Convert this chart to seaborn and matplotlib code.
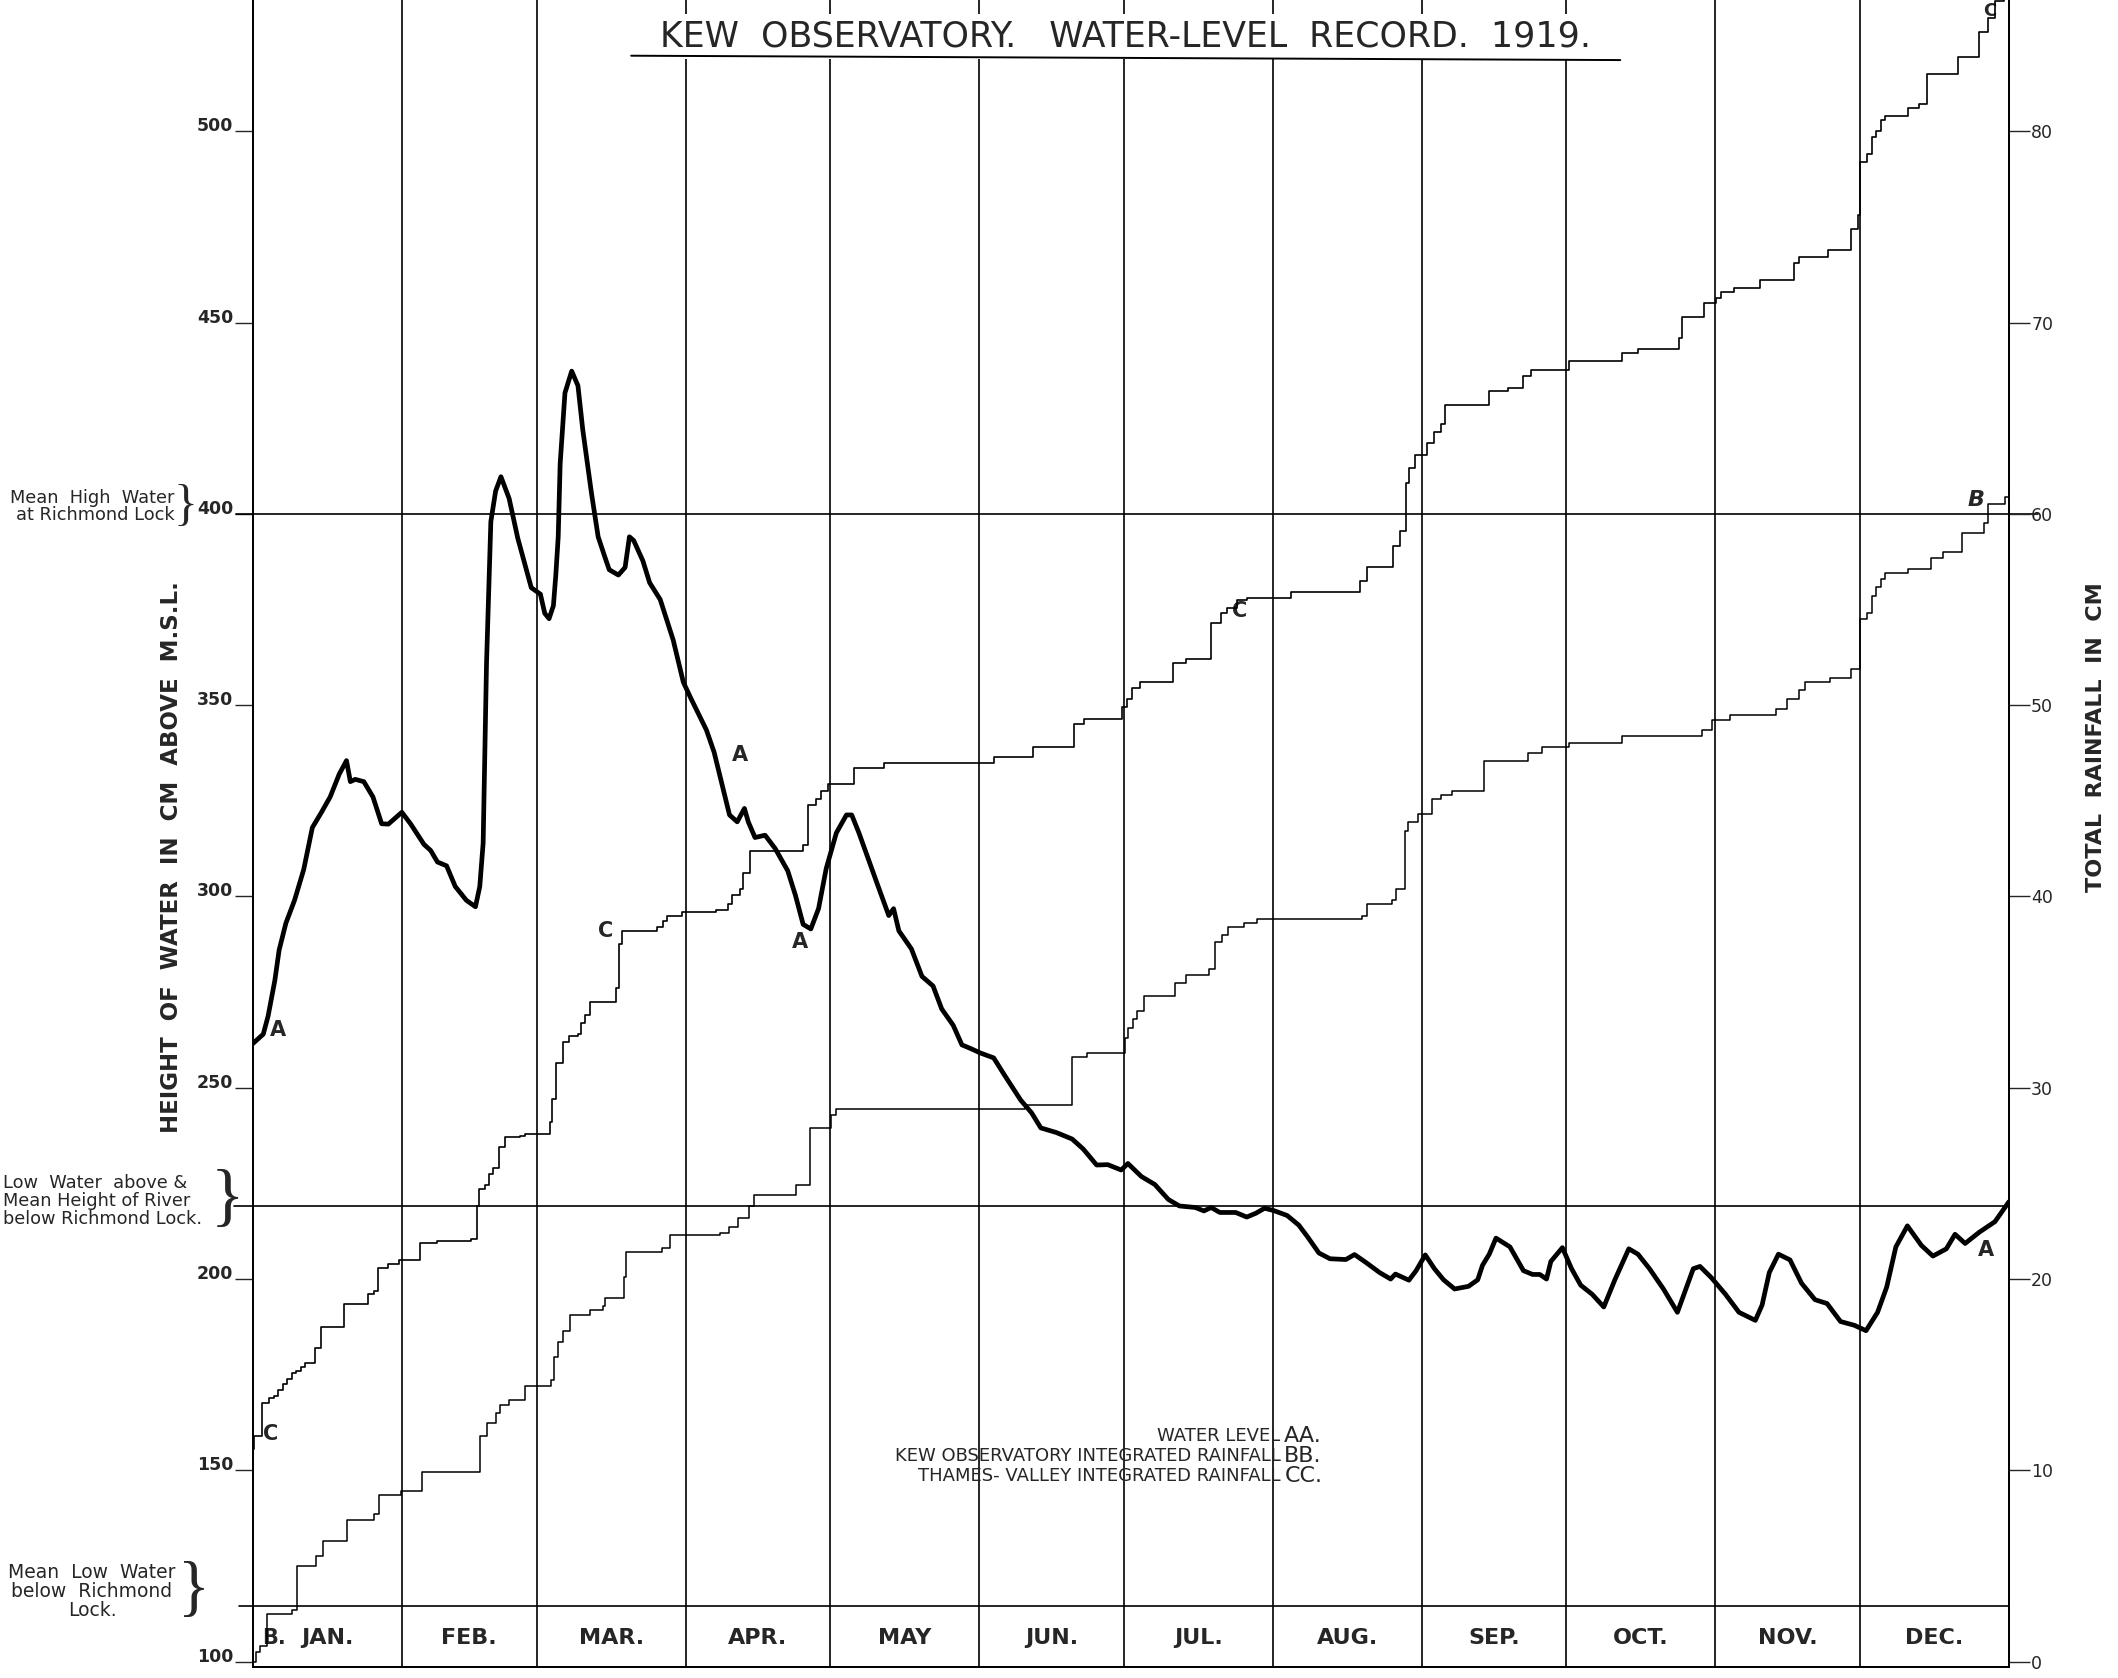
import matplotlib
matplotlib.use('Agg')
import matplotlib.pyplot as plt
import seaborn as sns
from matplotlib.lines import Line2D

# -------------------------------
# Data
# -------------------------------
# water level A, cm above M.S.L. (left scale), x = day of year
water_day = [0, 2.2, 3.2, 4.6, 5.5, 6.9, 8.7, 10.6, 12.4, 14.3, 16.1, 18.0, 19.5, 20.3, 21.3,
             23.1, 25.0, 26.8, 28.2, 31.0, 32.8, 35.6, 37.0, 38.4, 40.3, 42.1, 44.4, 46.3,
             47.2, 47.9, 48.6, 49.5, 50.5, 51.6, 53.3, 55.1, 57.9, 59.8, 60.7, 61.6, 62.5,
             63.0, 63.5, 63.9, 64.9, 66.3, 67.6, 68.6, 70.4, 71.8, 73.2, 74.1, 76.0, 77.4,
             78.3, 79.2, 81.1, 82.5, 84.7, 87.4, 89.5, 91.1, 94.3, 95.9, 97.5, 99.1, 100.7,
             102.2, 103.0, 104.4, 106.5, 108.6, 111.2, 112.8, 114.4, 116.0, 117.6, 119.2,
             121.3, 123.4, 124.5, 126.0, 128.0, 130.0, 132.2, 133.2, 134.3, 136.9, 139.1,
             141.4, 143.2, 145.6, 147.4, 149.3, 151.2, 154.0, 156.3, 159.6, 161.9, 163.8,
             167.0, 170.3, 172.6, 175.4, 177.7, 180.5, 181.9, 184.7, 187.5, 190.3, 192.6,
             195.9, 197.7, 199.2, 201.0, 204.3, 206.6, 208.5, 210.3, 212.2, 215.0, 217.4,
             219.2, 221.6, 223.9, 227.2, 229.0, 231.4, 234.2, 236.5, 237.5, 240.3, 241.8,
             243.7, 245.6, 247.5, 249.8, 252.7, 254.6, 255.6, 257.0, 258.4, 261.3, 264.1,
             266.0, 267.5, 268.9, 269.8, 272.2, 274.1, 276.0, 278.4, 280.8, 283.1, 286.0,
             287.9, 290.3, 293.2, 296.1, 298.0, 299.4, 300.8, 303.2, 306.1, 308.9, 312.3,
             313.7, 315.2, 317.1, 319.5, 321.9, 324.7, 327.2, 330.0, 332.9, 335.3, 337.7,
             339.6, 341.5, 343.9, 346.8, 349.2, 352.0, 353.8, 355.9, 358.8, 362.1, 365.0]
water_cm = [261.5, 264, 268.7, 278, 286, 293, 299, 307, 318, 322, 326, 332, 335.5, 330, 330.6,
            330, 326, 319, 318.9, 322, 319, 313.6, 312, 309, 308, 302.6, 299, 297.3,
            302.6, 314, 361, 398, 406, 409.7, 404, 393.6, 380.7, 379, 374, 372.6, 376,
            384, 394, 413, 431.6, 437.3, 433.5, 422, 405.5, 394, 388.7, 385.4, 384, 386,
            394, 393, 387.7, 382, 377.6, 367, 356, 351.7, 343.5, 337.7, 329.5, 321.3, 319.5,
            323, 319.5, 315.4, 316, 312.5, 306.7, 300.3, 292.7, 291.5, 296.8, 307.3,
            316.6, 321.3, 321.3, 316.6, 309.6, 302.6, 295, 296.8, 291, 286.3, 279.1,
            276.6, 270.6, 266.3, 261.2, 260.2, 259.1, 257.8, 253.2, 246.8, 243.4, 239.5,
            238.3, 236.6, 234, 229.8, 229.9, 228.5, 230.2, 226.8, 224.7, 220.8, 219.1,
            218.7, 217.8, 218.7, 217.4, 217.4, 216.2, 217.2, 218.5, 217.9, 216.6, 214.1,
            211.1, 206.8, 205.3, 205.1, 206.4, 204.3, 201.7, 200, 201.3, 199.7, 202.2,
            206.3, 202.7, 199.8, 197.4, 198.1, 199.8, 203.6, 206.5, 210.7, 208.4, 202.2,
            201.2, 201.2, 200, 204.6, 208.2, 202.7, 198.4, 196, 192.7, 199.8, 207.9,
            206.5, 202.7, 197.4, 191.3, 197.9, 202.7, 203.3, 200.3, 196, 191.3, 189.2,
            193.2, 201.7, 206.5, 205, 198.9, 194.6, 193.6, 188.9, 187.9, 186.5, 191.3,
            197.9, 208.4, 213.9, 208.8, 206, 207.9, 211.7, 209.3, 212.2, 215, 220.2]

# Kew Observatory integrated rainfall B, cm (right scale), steps
kew_day = [0, 0.6, 1.6, 3.0, 8.1, 9.2, 13.2, 14.6, 19.7, 25.3, 26.3, 30.9, 35.1, 47.2, 48.6,
           50.5, 51.4, 53.3, 56.5, 62.1, 62.6, 63.5, 64.5, 65.9, 70.1, 72.9, 73.3, 77.1,
           77.5, 85.0, 86.8, 97.1, 99.0, 100.8, 103.1, 104.1, 112.9, 115.8, 120.2, 121.3,
           160.5, 170.3, 173.5, 181.2, 181.9, 183.0, 183.8, 185.2, 191.7, 194.0, 198.7,
           200.1, 201.4, 202.8, 206.0, 208.8, 230.6, 231.6, 236.7, 237.6, 239.4, 240.2,
           242.2, 245.0, 246.9, 249.3, 255.9, 265.1, 268.0, 273.6, 284.6, 301.2, 303.2,
           307.0, 316.5, 318.9, 321.3, 322.7, 327.9, 332.2, 334.1, 335.5, 336.5, 337.4,
           338.4, 339.3, 344.1, 348.8, 351.2, 355.3, 359.8, 360.7, 364.1, 365.0]
kew_cm = [0, 0.5, 0.8, 2.5, 2.7, 5.0, 5.5, 6.3, 7.4, 7.7, 8.7, 8.9, 9.9, 11.8, 12.5,
          13.0, 13.4, 13.7, 14.4, 14.7, 15.9, 16.7, 17.3, 18.1, 18.4, 18.6, 19.0, 20.1,
          21.4, 21.6, 22.3, 22.4, 22.7, 23.2, 23.8, 24.4, 24.9, 27.9, 28.6, 28.9,
          29.1, 31.6, 31.8, 32.6, 33.1, 33.6, 34.0, 34.8, 35.5, 35.9, 36.2,
          37.6, 38.0, 38.4, 38.6, 38.8, 39.0, 39.6, 39.8, 40.4, 43.4, 43.9,
          44.3, 45.1, 45.3, 45.5, 47.1, 47.5, 47.8, 48.0, 48.4, 48.7, 49.2,
          49.5, 49.8, 50.3, 50.8, 51.2, 51.4, 51.9, 54.5, 54.8, 55.7, 56.2,
          56.6, 56.9, 57.1, 57.7, 58.0, 59.0, 59.5, 60.5, 60.9, 61.3]

# Thames-Valley integrated rainfall C, cm (right scale), steps
thames_day = [0, 0.3, 2.0, 3.4, 4.4, 5.3, 6.2, 7.2, 8.1, 9.0, 10.0, 10.9, 13.0, 14.1, 19.0,
              23.9, 25.3, 26.1, 28.1, 30.5, 34.7, 38.4, 45.4, 46.6, 47.1, 48.2, 49.1, 50.0,
              51.2, 52.4, 55.6, 56.6, 61.7, 62.3, 63.1, 64.5, 65.7, 67.7, 68.2, 69.1, 70.1,
              75.5, 76.1, 76.8, 84.0, 85.3, 86.1, 89.2, 96.2, 98.7, 99.6, 101.2, 101.9,
              103.3, 114.4, 115.5, 117.0, 118.1, 119.5, 124.9, 131.3, 154.1, 162.1, 170.6,
              172.7, 180.7, 181.7, 182.8, 184.4, 191.3, 193.9, 199.2, 201.3, 202.4, 204.6,
              206.7, 215.7, 230.1, 231.6, 236.9, 238.5, 239.6, 240.3, 241.5, 244.1, 245.6,
              247.0, 247.7, 257.0, 260.8, 264.1, 265.6, 273.6, 284.6, 287.9, 296.5, 297.0,
              301.7, 304.1, 305.1, 307.9, 313.2, 320.3, 321.3, 327.4, 332.2, 333.6, 334.1,
              335.5, 336.5, 337.4, 338.4, 339.3, 344.1, 346.4, 347.9, 354.4, 358.8, 360.7,
              362.1, 364.0, 365.0]
thames_cm = [11.1, 11.8, 13.5, 13.8, 13.9, 14.2, 14.5, 14.8, 15.1, 15.2, 15.4, 15.6, 16.4, 17.5, 18.7,
             19.2, 19.4, 20.6, 20.8, 21.0, 21.9, 22.0, 22.1, 23.8, 24.7, 24.9, 25.5, 25.8,
             26.9, 27.4, 27.5, 27.6, 28.2, 29.4, 31.3, 32.4, 32.7, 32.8, 33.4, 33.8, 34.5,
             35.2, 37.5, 38.2, 38.4, 38.7, 39.0, 39.2, 39.3, 39.6, 40.1, 40.4, 41.2,
             42.4, 42.7, 44.8, 45.1, 45.5, 45.9, 46.7, 47.0, 47.3, 47.8, 49.0,
             49.3, 49.9, 50.3, 50.9, 51.2, 52.2, 52.4, 54.3, 54.8, 55.1, 55.5,
             55.6, 55.9, 56.5, 57.2, 58.3, 59.1, 61.6, 62.4, 63.1, 63.7, 64.3,
             64.7, 65.7, 66.4, 66.6, 67.2, 67.5, 68.0, 68.4, 68.6, 69.2, 70.3,
             71.0, 71.3, 71.6, 71.8, 72.2, 73.1, 73.4, 73.8, 74.9, 75.6, 78.4,
             78.8, 79.7, 80.0, 80.6, 80.8, 81.2, 81.4, 83.0, 83.9, 85.2, 85.9,
             86.8, 87.5, 88.5]

month_start = [0, 31, 59, 90, 120, 151, 181, 212, 243, 273, 304, 334, 365]
month_names = ['JAN.', 'FEB.', 'MAR.', 'APR.', 'MAY', 'JUN.', 'JUL.', 'AUG.',
               'SEP.', 'OCT.', 'NOV.', 'DEC.']

level_ticks = [100, 150, 200, 250, 300, 350, 400, 450, 500]
rain_ticks = [0, 10, 20, 30, 40, 50, 60, 70, 80]

mean_high_water = 400
mean_river = 219
mean_low_water = 114.5

# -------------------------------
# Figure
# -------------------------------
sns.set_style('white')
plt.rcParams['font.family'] = ['DejaVu Sans']

y_lo, y_hi = 98.6, 534.3
fig = plt.figure(figsize=(21.18, 16.78), dpi=100)
ax = fig.add_axes([0.1193, 0.00656, 0.8292, 0.99344])
ax.set_xlim(0, 365)
ax.set_ylim(y_lo, y_hi)
ax2 = ax.twinx()
ax2.set_ylim((y_lo - 100) / 5, (y_hi - 100) / 5)

for a in (ax, ax2):
    a.spines['top'].set_visible(False)
    for s in ('left', 'right', 'bottom'):
        a.spines[s].set_linewidth(1.3)
        a.spines[s].set_color('black')
    a.set_xticks([])

# month grid
for d in month_start[1:-1]:
    ax.axvline(d, color='black', lw=1.2, zorder=1)

# reference levels (run a little past the frame like the original)
ax.plot([-3.5, 371], [mean_high_water] * 2, color='black', lw=1.2, clip_on=False)
ax.plot([-3.9, 365], [mean_river] * 2, color='black', lw=1.2, clip_on=False)
ax.plot([-2.8, 365], [mean_low_water] * 2, color='black', lw=1.2, clip_on=False)

# curves
sns.lineplot(x=water_day, y=water_cm, ax=ax, color='black', linewidth=3.4,
             estimator=None, sort=False, zorder=4)
sns.lineplot(x=kew_day, y=kew_cm, ax=ax2, color='black', linewidth=1.1,
             drawstyle='steps-post', estimator=None, sort=False)
sns.lineplot(x=thames_day, y=thames_cm, ax=ax2, color='black', linewidth=1.2,
             drawstyle='steps-post', estimator=None, sort=False)

# ticks
ax.set_yticks(level_ticks)
ax.set_yticklabels([str(v) for v in level_ticks])
ax.tick_params(axis='y', direction='out', length=13, width=1.0, pad=1,
               labelsize=12.5, left=True)
for lbl in ax.get_yticklabels():
    lbl.set_fontweight('bold')
    lbl.set_verticalalignment('baseline')
ax2.set_yticks(rain_ticks)
ax2.set_yticklabels([str(v) for v in rain_ticks])
ax2.tick_params(axis='y', direction='out', length=15, width=1.0, pad=1,
                labelsize=12.5, right=True)
ax.set_ylabel('')
ax2.set_ylabel('')

# axis titles
fig.text(0.081, 0.489, 'HEIGHT  OF  WATER  IN  CM  ABOVE  M.S.L.', rotation=90,
         ha='center', va='center', fontsize=16.5, fontweight='bold')
fig.text(0.9897, 0.561, 'TOTAL  RAINFALL  IN  CM', rotation=90,
         ha='center', va='center', fontsize=16, fontweight='bold')

# title
fig.text(0.5314, 0.978, 'KEW  OBSERVATORY.   WATER-LEVEL  RECORD.  1919.',
         ha='center', va='center', fontsize=25, zorder=3,
         bbox=dict(facecolor='white', edgecolor='none', pad=4))
fig.add_artist(Line2D([0.298, 0.765], [0.9668, 0.9642], color='black', lw=1.4,
                      zorder=6))

# month labels along the bottom strip
for i, name in enumerate(month_names):
    mid = (month_start[i] + month_start[i + 1]) / 2
    ax.text(mid, 106.3, name, ha='center', va='center', fontsize=16, fontweight='bold')

# curve letters
lab = dict(fontsize=15, fontweight='bold', ha='center', va='center')
ax.text(5.3, 265, 'A', **lab)
ax.text(101.3, 337, 'A', **lab)
ax.text(113.7, 288, 'A', **lab)
ax.text(360.2, 207.5, 'A', **lab)
ax.text(73.3, 291, 'C', **lab)
ax.text(205.2, 374.5, 'C', **lab)
ax.text(3.8, 159.5, 'C', **lab)
ax.text(358.2, 403.5, 'B', fontsize=16, fontweight='bold', style='italic',
        ha='center', va='center')
ax.text(2.0, 106.3, 'B.', fontsize=15, fontweight='bold', ha='left', va='center')
ax.text(361.0, y_hi - 0.4, 'C', fontsize=13, fontweight='bold', ha='center', va='top')

# key
key_x = 213.6
key_rows = [(159.0, 'WATER LEVEL', 'AA.'),
            (153.7, 'KEW OBSERVATORY INTEGRATED RAINFALL', 'BB.'),
            (148.4, 'THAMES- VALLEY INTEGRATED RAINFALL', 'CC.')]
for yv, txt, code in key_rows:
    ax.text(key_x, yv, txt, ha='right', va='center', fontsize=13)
    ax.text(key_x + 0.8, yv, code, ha='left', va='center', fontsize=16)

# notes left of the frame
trans = ax.get_yaxis_transform()
ax.text(-0.0445, 401.9, 'Mean  High  Water\nat Richmond Lock', transform=trans,
        ha='right', va='center', fontsize=12.8, linespacing=0.95, clip_on=False)
ax.text(-0.0385, 401.9, '}', transform=trans, ha='center', va='center',
        fontsize=36, family='Liberation Serif', clip_on=False)
ax.text(-0.1423, 220.3, 'Low  Water  above &\nMean Height of River\nbelow Richmond Lock.',
        transform=trans, ha='left', va='center', fontsize=12.8, linespacing=1.0,
        clip_on=False)
ax.text(-0.0145, 220.3, '}', transform=trans, ha='center', va='center',
        fontsize=50, family='Liberation Serif', clip_on=False)
ax.text(-0.0915, 118.4, 'Mean  Low  Water\nbelow  Richmond\nLock.', transform=trans,
        ha='center', va='center', fontsize=13.5, linespacing=1.0, clip_on=False)
ax.text(-0.0335, 118.4, '}', transform=trans, ha='center', va='center',
        fontsize=48, family='Liberation Serif', clip_on=False)

fig.savefig('out.png', dpi=100, facecolor='white')
